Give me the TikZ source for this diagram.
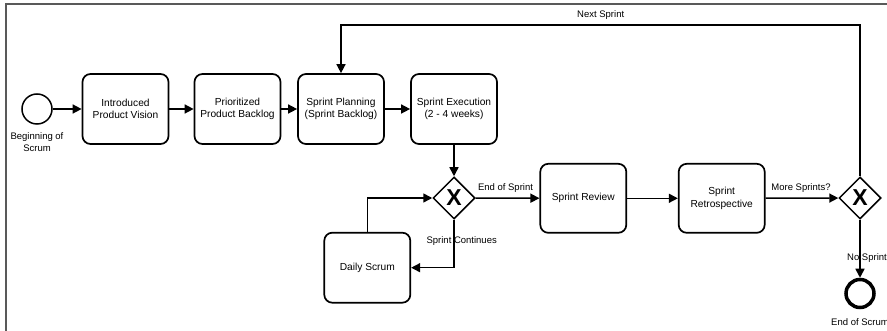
\documentclass[tikz,border=0pt]{standalone}
\usepackage{fontspec}
\setmainfont{Liberation Sans}
\usetikzlibrary{arrows.meta,shapes.geometric}
\begin{document}
\begin{tikzpicture}[x=1pt, y=-1pt, >={Triangle[length=9pt,width=9pt]},
    task/.style={draw, line width=1.7pt, rounded corners=8pt, minimum width=86pt,
        minimum height=70pt, align=center, inner sep=2pt, font=\fontsize{10.2}{12.7}\selectfont},
    gate/.style={draw, diamond, line width=1.5pt, minimum width=42pt, minimum height=42pt,
        inner sep=0pt, font=\fontsize{23}{23}\selectfont\bfseries},
    lbl/.style={font=\fontsize{9.5}{11.5}\selectfont, align=center, inner sep=0pt},
    flow/.style={->, line width=1.5pt}]
\useasboundingbox (0,0) rectangle (887,331);
\clip (0,0) rectangle (887,331);
\draw[line width=1.5pt, black!65](6,340) -- (6,4) -- (900,4);

\node (start) at (37,109)[draw, circle, line width=1.5pt, minimum size=30pt, inner sep=0pt]{};
\node (startlbl) at (37,142)[lbl]{Beginning of\\Scrum};
\node (vision) at (125.5,109)[task]{Introduced\\Product Vision};
\node (backlog) at (237.5,109)[task]{Prioritized\\Product Backlog};
\node (planning) at (341,109)[task]{Sprint Planning\\(Sprint Backlog)};
\node (execution) at (454,109)[task]{Sprint Execution\\(2 - 4 weeks)};
\node (gw1) at (454,198)[gate]{X};
\node (review) at (583.3,198.3)[task, minimum height=69pt]{Sprint Review};
\node (retro) at (721.7,198.3)[task, minimum height=69pt]{Sprint\\Retrospective};
\node (gw2) at (860,198)[gate]{X};
\node (daily) at (367.3,267.7)[task]{Daily Scrum};
\node (stop) at (860,293.5)[draw, circle, line width=3.5pt, minimum size=28pt, inner sep=0pt]{};
\node (stoplbl) at (860,322)[lbl]{End of Scrum};
\coordinate (top) at (600,25);

\draw[flow](start) -- (vision);
\draw[flow](vision) -- (backlog);
\draw[flow](backlog) -- (planning);
\draw[flow](planning) -- (execution);
\draw[flow](execution) -- (gw1);
\draw[flow](gw1) -- (review);
\draw[flow](review) -- (retro);
\draw[flow](retro) -- (gw2);
\draw[flow](gw2) -- (stop);
\draw[flow](gw2.north) |- (top) -| (planning.north);
\draw[flow](daily.north) |- (gw1.west);
\draw[flow](gw1.south) |- (daily.east);

\node at (600.7,14.7)[lbl]{Next Sprint};
\node at (505.5,188)[lbl]{End of Sprint};
\node at (461.7,241)[lbl]{Sprint Continues};
\node at (801,188)[lbl]{More Sprints?};
\node at (847,258)[lbl, anchor=west]{No Sprint};
\end{tikzpicture}
\end{document}
